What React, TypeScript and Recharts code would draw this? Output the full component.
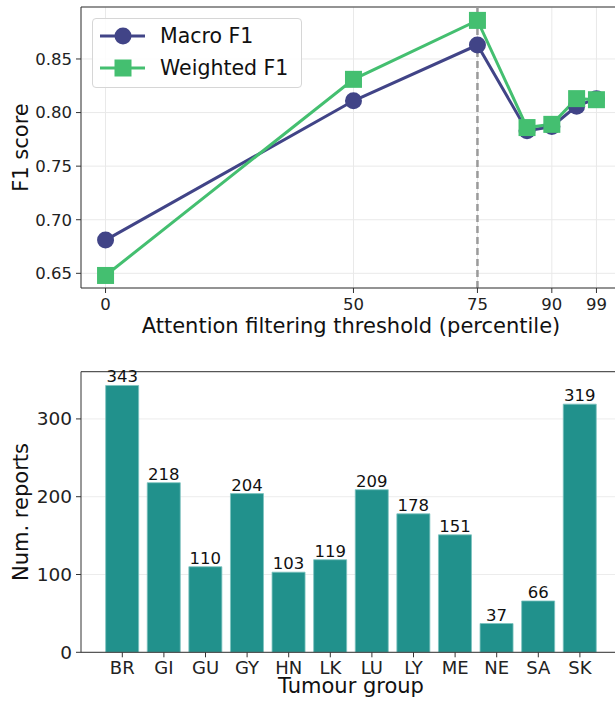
import {
  LineChart,
  Line,
  XAxis,
  YAxis,
  CartesianGrid,
  ReferenceLine,
  Legend,
  BarChart,
  Bar,
  LabelList,
} from "recharts";

// top panel: F1 vs attention filtering threshold
const thresholds = [0, 50, 75, 85, 90, 95, 99];
const macroF1 = [0.681, 0.811, 0.863, 0.783, 0.787, 0.806, 0.813];
const weightedF1 = [0.648, 0.831, 0.886, 0.786, 0.789, 0.813, 0.812];
const thresholdTicks = [0, 50, 75, 90, 99];
const f1Ticks = [0.65, 0.7, 0.75, 0.8, 0.85];

// bottom panel: reports per tumour group
const tumourGroups = ["BR", "GI", "GU", "GY", "HN", "LK", "LU", "LY", "ME", "NE", "SA", "SK"];
const reportCounts = [343, 218, 110, 204, 103, 119, 209, 178, 151, 37, 66, 319];
const countTicks = [0, 100, 200, 300];

const MACRO = "#414487";
const WEIGHTED = "#44bf70";
const TEAL = "#21918c";
const FONT = "DejaVu Sans";
const F1_MAX = 0.8985;
const COUNT_MAX = 360.7;

const lineData = thresholds.map((t, i) => ({ t, macro: macroF1[i], weighted: weightedF1[i] }));
const barData = tumourGroups.map((g, i) => ({ group: g, count: reportCounts[i] }));

const circleDot = (props: any) => {
  const { cx, cy, index } = props;
  return <circle key={`c${index}`} cx={cx} cy={cy} r={8.5} fill={MACRO} />;
};

const squareDot = (props: any) => {
  const { cx, cy, index } = props;
  return <rect key={`s${index}`} x={cx - 8.5} y={cy - 8.5} width={17} height={17} fill={WEIGHTED} />;
};

// axis titles at fixed spots (prop names kept clear of what recharts injects)
const YTitle = ({ title, midY }: any) => (
  <text
    x={28}
    y={midY}
    transform={`rotate(-90 28 ${midY})`}
    textAnchor="middle"
    fontSize={21}
    fontFamily={FONT}
    fill="#111"
  >
    {title}
  </text>
);

const XTitle = ({ title, baseY }: any) => (
  <text x={351} y={baseY} textAnchor="middle" fontSize={21} fontFamily={FONT} fill="#111">
    {title}
  </text>
);

const renderLegend = () => (
  <div
    style={{
      width: 210,
      height: 70,
      boxSizing: "border-box",
      border: "1px solid #d6d6d6",
      borderRadius: 4,
      background: "rgba(255,255,255,0.85)",
    }}
  >
    <svg width={208} height={68} style={{ display: "block" }}>
      <line x1={7} y1={17} x2={52} y2={17} stroke={MACRO} strokeWidth={3} />
      <circle cx={30} cy={17} r={8.5} fill={MACRO} />
      <text x={67} y={24} fontSize={20.5} fontFamily={FONT} fill="#111">Macro F1</text>
      <line x1={7} y1={49} x2={52} y2={49} stroke={WEIGHTED} strokeWidth={3} />
      <rect x={21.5} y={40.5} width={17} height={17} fill={WEIGHTED} />
      <text x={67} y={56} fontSize={20.5} fontFamily={FONT} fill="#111">Weighted F1</text>
    </svg>
  </div>
);

export default function App() {
  return (
    <div
      style={{
        position: "absolute",
        left: 0,
        top: 0,
        width: 615,
        height: 704,
        overflow: "hidden",
        background: "#fff",
      }}
    >
      <div style={{ position: "absolute", left: 0, top: 0 }}>
        <LineChart width={640} height={340} data={lineData} margin={{ top: 7, right: 19, left: 0, bottom: 0 }}>
          <CartesianGrid stroke="#e9e9e9" />
          <XAxis
            dataKey="t"
            type="number"
            domain={[-4.95, 103.95]}
            ticks={thresholdTicks}
            allowDataOverflow
            height={52}
            tickSize={5}
            tickMargin={5}
            stroke="#333"
            tick={{ fill: "#222", fontSize: 16.5, fontFamily: FONT }}
            label={<XTitle title="Attention filtering threshold (percentile)" baseY={333} />}
          />
          <YAxis
            type="number"
            domain={[0.6363, F1_MAX]}
            ticks={f1Ticks}
            allowDataOverflow
            width={81}
            tickSize={5}
            tickMargin={4}
            stroke="#333"
            tickFormatter={(v: number) => v.toFixed(2)}
            tick={{ fill: "#222", fontSize: 16.5, fontFamily: FONT }}
            label={<YTitle title="F1 score" midY={147.5} />}
          />
          <ReferenceLine y={F1_MAX} stroke="#333" />
          <Line
            dataKey="macro"
            stroke={MACRO}
            strokeWidth={3}
            dot={circleDot}
            activeDot={false}
            isAnimationActive={false}
          />
          <Line
            dataKey="weighted"
            stroke={WEIGHTED}
            strokeWidth={3}
            dot={squareDot}
            activeDot={false}
            isAnimationActive={false}
          />
          <ReferenceLine x={75} stroke="#9a9a9a" strokeWidth={2.5} strokeDasharray="7 4" />
          <Legend
            layout="vertical"
            align="center"
            verticalAlign="middle"
            content={renderLegend}
            wrapperStyle={{ left: 92, top: 18, width: 210, height: 70 }}
          />
        </LineChart>
      </div>
      <div style={{ position: "absolute", left: 0, top: 340 }}>
        <BarChart
          width={640}
          height={364}
          data={barData}
          margin={{ top: 31.7, right: 19, left: 0, bottom: 0 }}
          barCategoryGap="10%"
        >
          <CartesianGrid stroke="#ececec" vertical={false} />
          <XAxis
            dataKey="group"
            padding={{ left: 20.5, right: 20.3 }}
            height={51.7}
            tickSize={5}
            tickMargin={4}
            stroke="#333"
            tick={{ fill: "#222", fontSize: 18, fontFamily: FONT }}
            label={<XTitle title="Tumour group" baseY={353} />}
          />
          <YAxis
            type="number"
            domain={[0, COUNT_MAX]}
            ticks={countTicks}
            allowDataOverflow
            width={81}
            tickSize={5}
            tickMargin={4}
            stroke="#333"
            tick={{ fill: "#222", fontSize: 18.5, fontFamily: FONT }}
            label={<YTitle title="Num. reports" midY={172} />}
          />
          <ReferenceLine y={COUNT_MAX} stroke="#333" />
          <Bar dataKey="count" fill={TEAL} stroke="#7cc3bf" strokeWidth={0.8} isAnimationActive={false}>
            <LabelList dataKey="count" position="top" offset={3} fill="#111" fontSize={16.5} fontFamily={FONT} />
          </Bar>
        </BarChart>
      </div>
    </div>
  );
}
